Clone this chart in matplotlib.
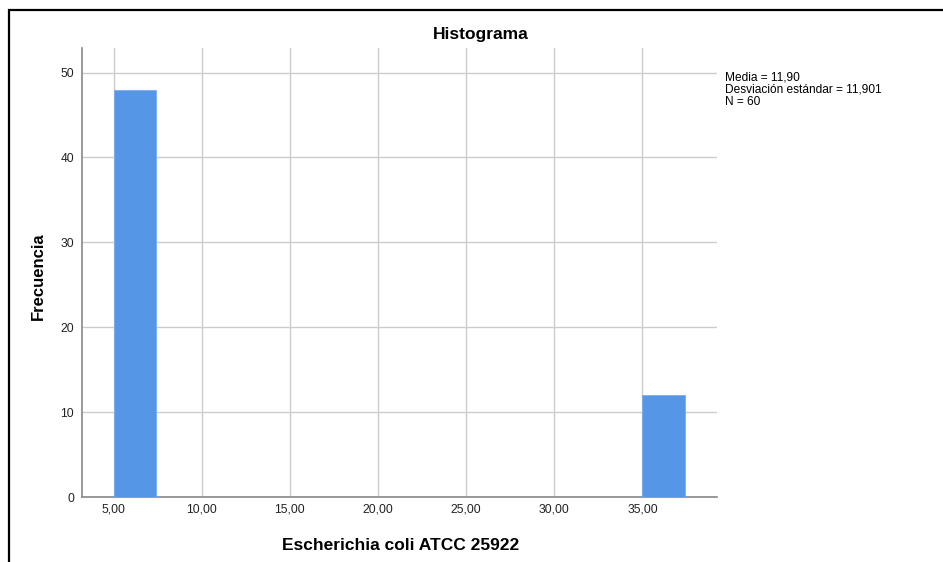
import matplotlib
matplotlib.use("Agg")
import matplotlib.pyplot as plt
from matplotlib.patches import Rectangle

# DATA
bin_left = [5.0, 35.0]
bin_width = 2.4
frecuencia = [48, 12]
x_ticks = [5, 10, 15, 20, 25, 30, 35]
x_tick_labels = ["5,00", "10,00", "15,00", "20,00", "25,00", "30,00", "35,00"]
y_ticks = [0, 10, 20, 30, 40, 50]
stats_lines = ["Media = 11,90", "Desviación estándar = 11,901", "N = 60"]

plt.rcParams["font.family"] = ["Liberation Sans", "DejaVu Sans"]

W, H = 943, 562
fig = plt.figure(figsize=(W / 100, H / 100), dpi=100)
fig.patch.set_facecolor("white")

# outer frame (cut on right and bottom like the screenshot)
fig.patches.append(Rectangle((9 / W, -0.1), 1.2, 1.1 - 10 / H, transform=fig.transFigure,
                             fill=False, edgecolor="black", linewidth=1.6, zorder=0))

ax = fig.add_axes([82.3 / W, 1 - 497 / H, (717.3 - 82.3) / W, (497 - 48) / H])
ax.bar(bin_left, frecuencia, width=bin_width, align="edge", color="#5596e6",
       edgecolor="#7aaef0", linewidth=0.6, zorder=3)

ax.set_xlim(3.23, 39.25)
ax.set_ylim(0, 52.9)
ax.set_xticks(x_ticks)
ax.set_xticklabels(x_tick_labels)
ax.set_yticks(y_ticks)
ax.tick_params(length=0, labelsize=8.7, colors="#222222")
ax.tick_params(axis="x", pad=5)
ax.tick_params(axis="y", pad=6)
ax.grid(True, color="#cccccc", linewidth=1.0, zorder=0)
for s in ["top", "right"]:
    ax.spines[s].set_visible(False)
for s in ["left", "bottom"]:
    ax.spines[s].set_color("#888888")
    ax.spines[s].set_linewidth(1.2)

fig.text(481 / W, 1 - 35 / H, "Histograma", ha="center", va="center",
         fontsize=12.5, fontweight="bold")
fig.text(401 / W, 1 - 545 / H, "Escherichia coli ATCC 25922", ha="center", va="center",
         fontsize=12.5, fontweight="bold")
fig.text(38 / W, 1 - 276 / H, "Frecuencia", ha="center", va="center", rotation=90,
         fontsize=12, fontweight="bold")
fig.text(725 / W, 1 - 72 / H, "\n".join(stats_lines), ha="left", va="top",
         fontsize=8.6, linespacing=1.0)

fig.savefig("out.png", dpi=100)
